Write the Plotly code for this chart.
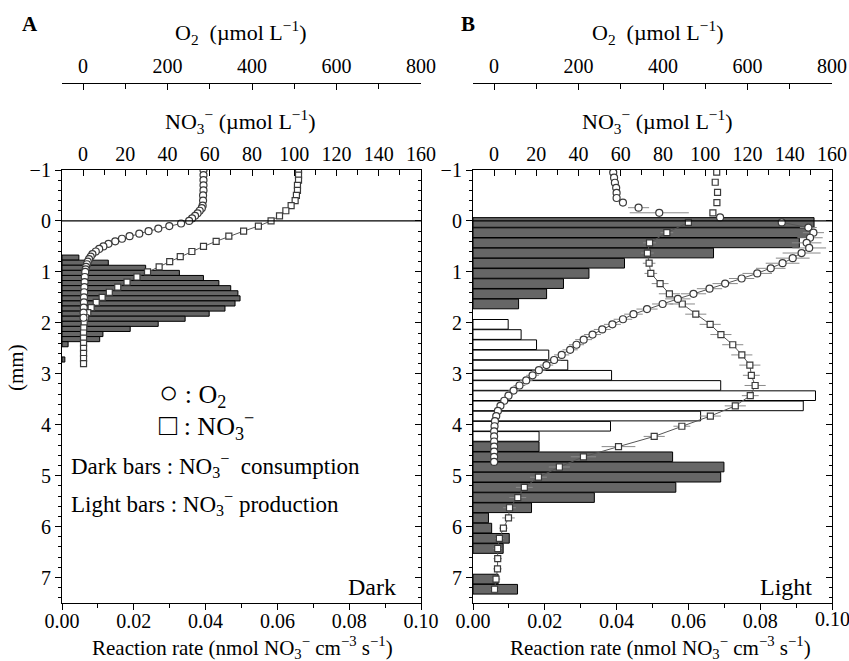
import plotly.graph_objects as go

W, H = 849, 661
FONT = "Liberation Serif, Times New Roman, serif"

# ---------------- Panel A (Dark) ----------------
barA_depth = [0.72, 0.82, 0.92, 1.02, 1.12, 1.22, 1.32, 1.42, 1.52, 1.62,
              1.72, 1.82, 1.92, 2.02, 2.12, 2.22, 2.32, 2.42, 2.72]
barA_rate = [0.0047, 0.0129, 0.0233, 0.0327, 0.0394, 0.0437, 0.0470, 0.0490, 0.0496, 0.0482,
             0.0454, 0.0410, 0.0343, 0.0268, 0.0190, 0.0114, 0.0105, 0.0017, 0.0008]

o2A_depth = [-1.0, -0.9, -0.8, -0.7, -0.6, -0.5, -0.4, -0.3, -0.25, -0.2, -0.15, -0.1, -0.05,
             0.0, 0.05, 0.1, 0.15, 0.2, 0.25, 0.3, 0.35, 0.4, 0.45, 0.5, 0.55, 0.6, 0.65,
             0.7, 0.75, 0.8, 0.85, 0.9, 0.95, 1.0, 1.1, 1.2, 1.3, 1.4, 1.5, 1.6, 1.7, 1.8, 1.9]
o2A = [285, 285, 285, 285, 285, 284, 284, 283, 281, 276, 271, 265, 258,
       251, 232, 204, 178, 155, 133, 110, 92, 76, 60, 48, 38, 30, 22,
       18, 14, 11, 9, 7, 6, 5, 4, 3.5, 3, 2.5, 2, 2, 1.5, 1, 1]

no3A_depth = [-1.0, -0.9, -0.8, -0.7, -0.6, -0.5, -0.4, -0.3, -0.2, -0.1,
              0.0, 0.1, 0.2, 0.3, 0.4, 0.5, 0.6, 0.7, 0.8, 0.9,
              1.0, 1.1, 1.2, 1.3, 1.4, 1.5, 1.6, 1.7, 1.8, 1.9,
              2.0, 2.1, 2.2, 2.3, 2.4, 2.5, 2.6, 2.7, 2.8]
no3A = [102, 102, 102, 101.5, 101.5, 101, 100.4, 98.5, 96, 93,
        89, 83, 76, 69, 63, 57, 51.5, 46, 41, 36,
        30.5, 25.5, 20.8, 16.4, 12.4, 9, 6.2, 3.8, 2.2, 1.2,
        0.5, 0.3, 0.2, 0.2, 0.2, 0.2, 0.2, 0.2, 0.2]

# ---------------- Panel B (Light) ----------------
barB_cons_depth = [0.03, 0.23, 0.43, 0.63, 0.83, 1.03, 1.23, 1.43, 1.63,
                   4.43, 4.63, 4.83, 5.03, 5.23, 5.43, 5.63, 5.83, 6.03, 6.23, 6.43, 7.03, 7.23]
barB_cons_rate = [0.0950, 0.0943, 0.0909, 0.0670, 0.0422, 0.0323, 0.0252, 0.0205, 0.0127,
                  0.0184, 0.0556, 0.0699, 0.0690, 0.0565, 0.0338, 0.0163, 0.0043, 0.0052, 0.0101, 0.0084, 0.0070, 0.0124]
barB_prod_depth = [2.03, 2.23, 2.43, 2.63, 2.83, 3.03, 3.23, 3.43, 3.63, 3.83, 4.03, 4.23]
barB_prod_rate = [0.0098, 0.0134, 0.0177, 0.0211, 0.0264, 0.0386, 0.0690, 0.0954, 0.0920, 0.0634, 0.0383, 0.0184]

o2B_water_depth = [-0.95, -0.85, -0.75, -0.65, -0.55, -0.45, -0.36, -0.26, -0.16, -0.07]
o2B_water = [282, 284, 286, 289, 290, 290, 305, 342, 391, 535]
o2B_water_err = [0, 0, 0, 0, 0, 0, 6, 25, 70, 0]

o2B_depth = [0.03, 0.13, 0.23, 0.33, 0.43, 0.53, 0.63, 0.73, 0.83, 0.93,
             1.03, 1.13, 1.23, 1.33, 1.43, 1.53, 1.63, 1.73, 1.83, 1.93,
             2.03, 2.13, 2.23, 2.33, 2.43, 2.53, 2.63, 2.73, 2.83, 2.93,
             3.03, 3.13, 3.23, 3.33, 3.43, 3.53, 3.63, 3.73, 3.83, 3.93,
             4.03, 4.13, 4.23, 4.33, 4.43, 4.53, 4.63, 4.73]
o2B = [681, 744, 756, 748, 740, 746, 728, 707, 683, 655,
       623, 586, 547, 510, 472, 435, 399, 362, 330, 305,
       280, 256, 233, 212, 195, 180, 160, 142, 124, 106,
       91, 76, 60, 46, 34, 24, 15, 9, 5, 2,
       1, 0, 0, 0, 0, 0, 0, 0]
o2B_err = [0, 20, 25, 30, 35, 40, 45, 40, 40, 35,
           35, 30, 30, 30, 30, 30, 25, 25, 22, 22,
           20, 20, 20, 20, 18, 18, 18, 16, 16, 16,
           15, 15, 14, 12, 10, 8, 6, 5, 4, 3,
           2, 2, 2, 2, 2, 2, 2, 2]

no3B_water_depth = [-0.96, -0.76, -0.56, -0.36, -0.16]
no3B_water = [105.4, 104.7, 105.8, 105.5, 103.6]

no3B_depth = [0.03, 0.23, 0.43, 0.63, 0.83, 1.03, 1.23, 1.43, 1.63, 1.83,
              2.03, 2.23, 2.43, 2.63, 2.83, 3.03, 3.23, 3.43, 3.63, 3.83,
              4.03, 4.23, 4.43, 4.63, 4.83, 5.03, 5.23, 5.43, 5.63, 5.83,
              6.03, 6.23, 6.43, 6.63, 6.83, 7.03, 7.23]
no3B = [92, 81.8, 73.6, 72.6, 73.4, 74.2, 78.6, 83, 89.1, 95.5,
        102.3, 107.4, 113, 117.3, 121.1, 121.8, 123.6, 121.3, 114.2, 102.4,
        88.9, 75.8, 58.9, 42.3, 30.9, 21, 14.3, 11.2, 7.3, 6.8,
        4.4, 2.5, 1.7, 1.7, 1.6, 0.9, 0.2]
no3B_err = [0, 3, 3, 3, 3, 3, 4, 5, 6, 5,
            5, 5, 5, 5, 5, 4, 5, 4, 5, 5,
            4, 5, 8, 6, 5, 4, 4, 4, 3, 3,
            2, 2, 2, 2, 2, 2, 2]

rate_ticks = [0.0, 0.02, 0.04, 0.06, 0.08, 0.10]
rate_labels = ["0.00", "0.02", "0.04", "0.06", "0.08", "0.10"]
no3_ticks = [0, 20, 40, 60, 80, 100, 120, 140, 160]
o2_ticks = [0, 200, 400, 600, 800]
depth_ticks = [-1, 0, 1, 2, 3, 4, 5, 6, 7]

# ---------------- geometry ----------------
def px(x):
    return x / W

def py(y):
    return 1 - y / H

domA = [px(62), px(421)]
domB = [px(473), px(832)]
domY = [py(603), py(170)]
posO2 = py(83)

DARK = "#666666"
MK_LINE = "#3a3a3a"
CONN = "#555555"
ERR = "#8a8a8a"

fig = go.Figure()

fig.add_trace(go.Bar(x=barA_rate, y=barA_depth, orientation="h", width=0.1,
                     marker=dict(color=DARK, line=dict(color="black", width=1)),
                     xaxis="x", yaxis="y", showlegend=False))
fig.add_trace(go.Scatter(x=no3A, y=no3A_depth, mode="lines+markers", xaxis="x2", yaxis="y",
                         line=dict(color=CONN, width=1),
                         marker=dict(symbol="square", size=6, color="white",
                                     line=dict(color=MK_LINE, width=1.2)),
                         showlegend=False))
fig.add_trace(go.Scatter(x=o2A, y=o2A_depth, mode="lines+markers", xaxis="x3", yaxis="y",
                         line=dict(color=CONN, width=1),
                         marker=dict(symbol="circle", size=7, color="white",
                                     line=dict(color=MK_LINE, width=1.2)),
                         showlegend=False))
fig.add_trace(go.Scatter(x=[], y=[], xaxis="x", yaxis="y3", showlegend=False))

fig.add_trace(go.Bar(x=barB_cons_rate, y=barB_cons_depth, orientation="h", width=0.19,
                     marker=dict(color=DARK, line=dict(color="black", width=1)),
                     xaxis="x4", yaxis="y2", showlegend=False))
fig.add_trace(go.Bar(x=barB_prod_rate, y=barB_prod_depth, orientation="h", width=0.19,
                     marker=dict(color="white", line=dict(color="black", width=1)),
                     xaxis="x4", yaxis="y2", showlegend=False))
fig.add_trace(go.Scatter(x=no3B_water, y=no3B_water_depth, mode="markers", xaxis="x5", yaxis="y2",
                         marker=dict(symbol="square", size=6, color="white",
                                     line=dict(color=MK_LINE, width=1.2)),
                         showlegend=False))
fig.add_trace(go.Scatter(x=no3B, y=no3B_depth, mode="lines+markers", xaxis="x5", yaxis="y2",
                         line=dict(color=CONN, width=1),
                         error_x=dict(type="data", array=no3B_err, color=ERR, thickness=1, width=0),
                         marker=dict(symbol="square", size=6, color="white",
                                     line=dict(color=MK_LINE, width=1.2)),
                         showlegend=False))
fig.add_trace(go.Scatter(x=o2B_water, y=o2B_water_depth, mode="markers", xaxis="x6", yaxis="y2",
                         error_x=dict(type="data", array=o2B_water_err, color=ERR, thickness=1, width=0),
                         marker=dict(symbol="circle", size=7, color="white",
                                     line=dict(color=MK_LINE, width=1.2)),
                         showlegend=False))
fig.add_trace(go.Scatter(x=o2B, y=o2B_depth, mode="lines+markers", xaxis="x6", yaxis="y2",
                         line=dict(color=CONN, width=1),
                         error_x=dict(type="data", array=o2B_err, color=ERR, thickness=1, width=0),
                         marker=dict(symbol="circle", size=7, color="white",
                                     line=dict(color=MK_LINE, width=1.2)),
                         showlegend=False))
fig.add_trace(go.Scatter(x=[], y=[], xaxis="x4", yaxis="y4", showlegend=False))

tickfont = dict(family=FONT, size=20, color="black")
common = dict(showgrid=False, zeroline=False, showline=True, linecolor="black",
              linewidth=1.2, tickcolor="black", tickwidth=1.2, tickfont=tickfont,
              automargin=False, ticklabeloverflow="allow")

def rate_axis(dom, anchor, labels):
    return dict(domain=dom, anchor=anchor, range=[0, 0.1], side="bottom",
                tickmode="array", tickvals=rate_ticks, ticktext=labels,
                ticks="outside", ticklen=6, ticklabelstandoff=-6,
                minor=dict(dtick=0.01, tick0=0, ticks="outside", ticklen=4,
                           tickcolor="black"),
                **common)

def no3_axis(dom, over, anchor):
    return dict(domain=dom, overlaying=over, anchor=anchor, side="top",
                range=[-10, 160], tickmode="array", tickvals=no3_ticks,
                ticks="inside", ticklen=6,
                minor=dict(dtick=10, tick0=0, ticks="inside", ticklen=5,
                           tickcolor="black"),
                **common)

def o2_axis(dom, over):
    return dict(domain=dom, overlaying=over, anchor="free", position=posO2, side="top",
                range=[-50, 800], tickmode="array", tickvals=o2_ticks,
                ticks="inside", ticklen=6, ticklabelstandoff=2,
                minor=dict(dtick=100, tick0=0, ticks="inside", ticklen=5,
                           tickcolor="black"),
                **common)

def depth_axis(anchor):
    return dict(domain=domY, anchor=anchor, range=[7.5, -1], side="left",
                tickmode="array", tickvals=depth_ticks,
                ticks="outside", ticklen=6,
                minor=dict(dtick=0.2, tick0=0, ticks="outside", ticklen=3,
                           tickcolor="black"),
                **common)

def depth_right(over, anchor):
    return dict(domain=domY, overlaying=over, anchor=anchor, side="right",
                range=[7.5, -1], tickmode="array", tickvals=depth_ticks,
                showticklabels=False, ticks="inside", ticklen=6,
                minor=dict(dtick=0.2, tick0=0, ticks="inside", ticklen=3,
                           tickcolor="black"),
                **common)

# panel B: last bottom label drawn as an annotation (plotly hides it at the div edge)
labelsB = rate_labels[:-1] + [""]

fig.update_layout(
    width=W, height=H, autosize=False,
    margin=dict(l=0, r=0, t=0, b=0, autoexpand=False),
    paper_bgcolor="white", plot_bgcolor="rgba(0,0,0,0)",
    font=dict(family=FONT, size=20, color="black"),
    barmode="overlay", showlegend=False,
    xaxis=rate_axis(domA, "y", rate_labels),
    xaxis2=no3_axis(domA, "x", "y"),
    xaxis3=o2_axis(domA, "x"),
    yaxis=depth_axis("x"),
    yaxis3=depth_right("y", "x"),
    xaxis4=rate_axis(domB, "y2", labelsB),
    xaxis5=no3_axis(domB, "x4", "y2"),
    xaxis6=o2_axis(domB, "x4"),
    yaxis2=depth_axis("x4"),
    yaxis4=depth_right("y2", "x4"),
)

for xr, yr in (("x", "y"), ("x4", "y2")):
    fig.add_shape(type="line", xref=xr + " domain", yref=yr, x0=0, x1=1, y0=0, y1=0,
                  line=dict(color="black", width=1.3), layer="above")

NO3 = "NO<sub>3</sub><sup>−</sup>"
ann = []

def text(x, y, s, size=20, xanchor="center", bold=False, angle=0):
    if bold:
        s = "<b>" + s + "</b>"
    ann.append(dict(x=px(x), y=py(y), xref="paper", yref="paper", text=s,
                    showarrow=False, xanchor=xanchor, yanchor="middle",
                    textangle=angle, font=dict(family=FONT, size=size, color="black")))

text(30, 24, "A", size=21, bold=True)
text(468, 24, "B", size=21, bold=True)
for cx in (240, 657):
    text(cx, 32, "O<sub>2</sub>  (µmol L<sup>−1</sup>)", size=22)
    text(cx, 121, NO3 + " (µmol L<sup>−1</sup>)", size=22)
    text(cx + 3, 647, "Reaction rate (nmol " + NO3 + " cm<sup>−3</sup> s<sup>−1</sup>)", size=21)
text(16, 367, "(mm)", size=21, angle=-90)
text(157, 393, "<span style='font-size:32px'><b>○</b></span> : O<sub>2</sub>", size=26, xanchor="left")
text(157, 426, "<span style='font-size:30px'><b>□</b></span> : " + NO3, size=26, xanchor="left")
text(69, 465, "Dark bars : " + NO3 + "  consumption", size=23, xanchor="left")
text(69, 503, "Light bars : " + NO3 + " production", size=23, xanchor="left")
text(398, 587, "Dark", size=24, xanchor="right")
text(814, 587, "Light", size=24, xanchor="right")

ann.append(dict(x=rate_ticks[-1], xref="x4", y=py(619), yref="paper", text=rate_labels[-1],
                showarrow=False, xanchor="center", yanchor="middle",
                font=dict(family=FONT, size=20, color="black")))

fig.update_layout(annotations=ann)
fig.write_html("out.html", config={"displayModeBar": False},
               post_script="document.body.style.margin='0px';document.body.style.overflow='hidden';")
